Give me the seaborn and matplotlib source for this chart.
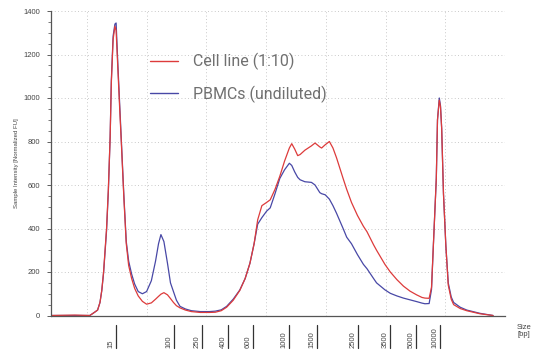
import matplotlib
matplotlib.use("Agg")
import matplotlib.pyplot as plt
import matplotlib.transforms as mtransforms
from matplotlib.ticker import MultipleLocator
import numpy as np
import pandas as pd
import seaborn as sns

sns.set_theme(style="ticks")
plt.rcParams["font.family"] = ["Liberation Sans", "DejaVu Sans"]

# migration time (s)
time = [34, 38, 40.5, 41.3, 41.8, 42.2, 42.5, 42.8, 43.3, 43.6, 43.9, 44.1, 44.4, 44.7, 44.9,
        45.2, 45.5, 45.8, 46.2, 46.6, 47.0, 47.5, 48.0, 48.6, 49.3, 50.0, 50.8, 51.5, 52.0,
        52.4, 52.9, 53.5, 54.0, 54.5, 55.0, 55.6, 56.5, 57.5, 59.0, 60.5, 61.5, 62.5, 63.4,
        64.5, 65.6, 66.5, 67.3, 68.0, 68.6, 69.3, 70.1, 70.7, 71.5, 72.3, 73.1, 73.9, 74.3,
        74.8, 75.3, 75.7, 76.5, 77.6, 78.2, 79.0, 79.3, 79.9, 80.6, 81.2, 81.8, 82.9, 83.5,
        84.3, 85.3, 86.3, 86.9, 88.0, 88.5, 89.9, 90.8, 91.9, 93.0, 94.1, 95.2, 96.1, 96.6,
        97.3, 97.7, 98.0, 98.5, 98.7, 99.0, 99.2, 99.4, 99.7, 100.1, 100.5, 101.0, 101.4,
        102.5, 103.6, 105.8, 108.0]

cell_line = [0, 2, 0, 15, 25, 60, 115, 200, 400, 580, 820, 1070, 1270, 1330, 1310,
             1130, 950, 780, 540, 330, 230, 170, 125, 90, 65, 52, 58, 75, 88,
             98, 105, 95, 78, 60, 45, 35, 25, 18, 14, 14, 15, 22, 38,
             70, 115, 170, 240, 330, 440, 505, 520, 532, 580, 640, 710, 770, 790,
             765, 735, 740, 760, 780, 793, 775, 770, 785, 800, 770, 725, 630, 580,
             520, 460, 410, 385, 325, 300, 235, 200, 165, 135, 112, 95, 83, 80,
             79, 130, 317, 630, 900, 990, 960, 860, 560, 320, 140, 75, 50,
             32, 22, 8, 0]

pbmc = [0, 0, 0, 15, 25, 60, 115, 195, 390, 570, 820, 1080, 1285, 1340, 1345,
        1150, 970, 790, 550, 340, 250, 190, 145, 110, 100, 110, 160, 250, 330,
        372, 340, 240, 150, 110, 70, 42, 30, 22, 18, 18, 20, 26, 42,
        75, 117, 170, 240, 330, 420, 450, 480, 495, 560, 630, 670, 700, 690,
        660, 635, 624, 615, 612, 600, 565, 560, 555, 535, 505, 470, 400, 360,
        330, 280, 235, 215, 170, 150, 118, 102, 90, 80, 72, 64, 57, 54,
        55, 120, 317, 630, 900, 1000, 965, 860, 560, 320, 150, 85, 60,
        38, 25, 10, 0]

ladder_time = [44.86, 54.57, 59.26, 63.62, 67.81, 73.84, 78.53, 85.39, 90.75, 95.11, 99.13]
ladder_labels = ["15", "100", "250", "400", "600", "1000", "1500", "2500", "3500", "5000", "10000"]

series = ["Cell line (1:10)", "PBMCs (undiluted)"]
df = pd.concat([
    pd.DataFrame({"time": time, "fu": cell_line, "sample": series[0]}),
    pd.DataFrame({"time": time, "fu": pbmc, "sample": series[1]}),
])

fig = plt.figure(figsize=(5.34, 3.52), dpi=100)
ax = fig.add_axes([51 / 534, 1 - 315.5 / 352, 454 / 534, 304.5 / 352])

sns.lineplot(data=df, x="time", y="fu", hue="sample",
             hue_order=[series[1], series[0]],
             palette={series[0]: "#dd3b3b", series[1]: "#4848a6"},
             linewidth=0.9, ax=ax, sort=False)

ax.set_xlim(34, 110)
ax.set_ylim(0, 1400)
ax.set_xlabel("")
ax.set_ylabel("Sample Intensity [Normalized FU]", fontsize=4.3, color="#444444", labelpad=3)

ax.yaxis.set_major_locator(MultipleLocator(200))
ax.yaxis.set_minor_locator(MultipleLocator(50))
ax.xaxis.set_major_locator(MultipleLocator(10))
ax.tick_params(axis="y", which="major", labelsize=5.5, colors="#444444", length=3, width=0.6, pad=5)
ax.tick_params(axis="y", which="minor", length=2, width=0.5, color="#444444")
ax.tick_params(axis="x", which="both", length=0, labelbottom=False)
ax.grid(True, which="major", linestyle=(0, (1, 3)), color="#b8b8b8", linewidth=0.6)
for side in ["top", "right"]:
    ax.spines[side].set_visible(False)
for side in ["left", "bottom"]:
    ax.spines[side].set_color("#555555")
    ax.spines[side].set_linewidth(0.9)

# ladder size markers below the axis
trans = mtransforms.blended_transform_factory(ax.transData, ax.transAxes)
label_trans = mtransforms.offset_copy(trans, fig=fig, x=-5, y=0, units="dots")
for t, lab in zip(ladder_time, ladder_labels):
    ax.plot([t, t], [-0.031, -0.107], transform=trans, color="#333333",
            linewidth=0.9, clip_on=False)
    ax.text(t, -0.107, lab, transform=label_trans, rotation=90, ha="center", va="bottom",
            fontsize=5.5, color="#444444")

fig.text(517 / 534, 1 - 331 / 352, "Size\n[bp]", fontsize=5.5, color="#444444",
         ha="left", va="center", linespacing=1.1)

handles, labels = ax.get_legend_handles_labels()
leg = ax.legend(handles[::-1], labels[::-1], loc="upper left", bbox_to_anchor=(0.218, 0.862),
                frameon=False, borderpad=0, borderaxespad=0, handlelength=1.75,
                handletextpad=0.95, labelspacing=0.95,
                prop={"family": ["Roboto", "DejaVu Sans"], "size": 11.5})
for txt in leg.get_texts():
    txt.set_color("#707070")
for line in leg.get_lines():
    line.set_linewidth(1.0)

fig.savefig("out.png", dpi=100)
